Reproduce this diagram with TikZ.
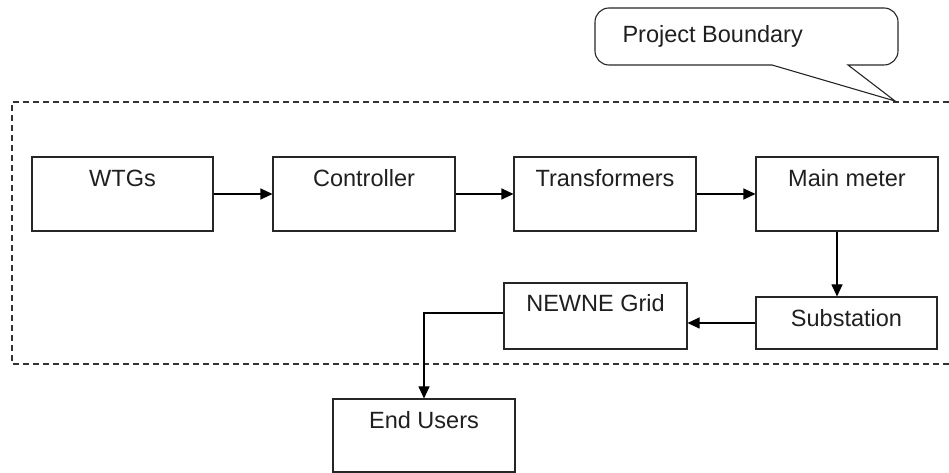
\documentclass[tikz,border=0pt]{standalone}
\usepackage{fontspec}
\setmainfont{Liberation Sans}
\usetikzlibrary{arrows.meta,calc}

\begin{document}
\begin{tikzpicture}[x=1pt,y=1pt,
  every path/.style={line width=1.1pt},
  blockbox/.style={draw=black!85, line width=1.1pt, rectangle, inner sep=0pt, minimum height=74pt, minimum width=182pt},
  caption/.style={anchor=base, inner sep=0pt, font=\fontsize{23.5}{28}\selectfont, text=black!88},
  flow/.style={-{Triangle[length=12pt,width=11pt]}, line width=1.1pt},
  boundary/.style={dash pattern=on 6pt off 4pt, line width=1.1pt, draw=black!80}
]
\useasboundingbox (0,0) rectangle (949,473);

% project boundary (dashed frame, open to the right)
\draw[boundary] (949,371) -- (12,371) -- (12,109) -- (949,109);

% callout naming the boundary
\draw[line width=1.1pt, draw=black!85]
  (772,408) -- (609,408) arc[start angle=270, end angle=180, radius=14]
  -- (595,451) arc[start angle=180, end angle=90, radius=14]
  -- (884,465) arc[start angle=90, end angle=0, radius=14]
  -- (898,422) arc[start angle=0, end angle=-90, radius=14]
  -- (848,408) -- (895,372) -- cycle;
\node[caption, anchor=base west] (pb) at (622,430) {Project Boundary};

% blocks
\node[blockbox, minimum width=181pt] (wtgs) at (122.5,279) {};
\node[blockbox] (ctrl) at (364,279) {};
\node[blockbox] (trans) at (605,279) {};
\node[blockbox] (meter) at (847,279) {};
\node[blockbox, minimum width=181pt, minimum height=52pt] (sub) at (846.5,150) {};
\node[blockbox, minimum width=183pt, minimum height=66pt] (grid) at (595.5,157) {};
\node[blockbox, minimum height=73pt] (users) at (424,37.5) {};

% block captions
\node[caption] (t-wtgs)  at ($(wtgs.north)+(0,-30)$)  {WTGs};
\node[caption] (t-ctrl)  at ($(ctrl.north)+(0,-30)$)  {Controller};
\node[caption] (t-trans) at ($(trans.north)+(0,-30)$) {Transformers};
\node[caption] (t-meter) at ($(meter.north)+(0,-30)$) {Main meter};
\node[caption] (t-sub)   at ($(sub.north)+(0,-30)$)   {Substation};
\node[caption] (t-grid)  at ($(grid.north)+(0,-29)$)  {NEWNE Grid};
\node[caption] (t-users) at ($(users.north)+(0,-30)$) {End Users};

% connectors
\draw[flow] (wtgs.east) -- (ctrl.west);
\draw[flow] (ctrl.east) -- (trans.west);
\draw[flow] (trans.east) -- (meter.west);
\draw[flow] ([xshift=-10pt]meter.south) -- ([xshift=-10pt]meter.south |- sub.north);
\draw[flow] (sub.west) -- (sub.west -| grid.east);
\draw[flow] ([yshift=3pt]grid.west) -| (users.north);
\end{tikzpicture}
\end{document}
